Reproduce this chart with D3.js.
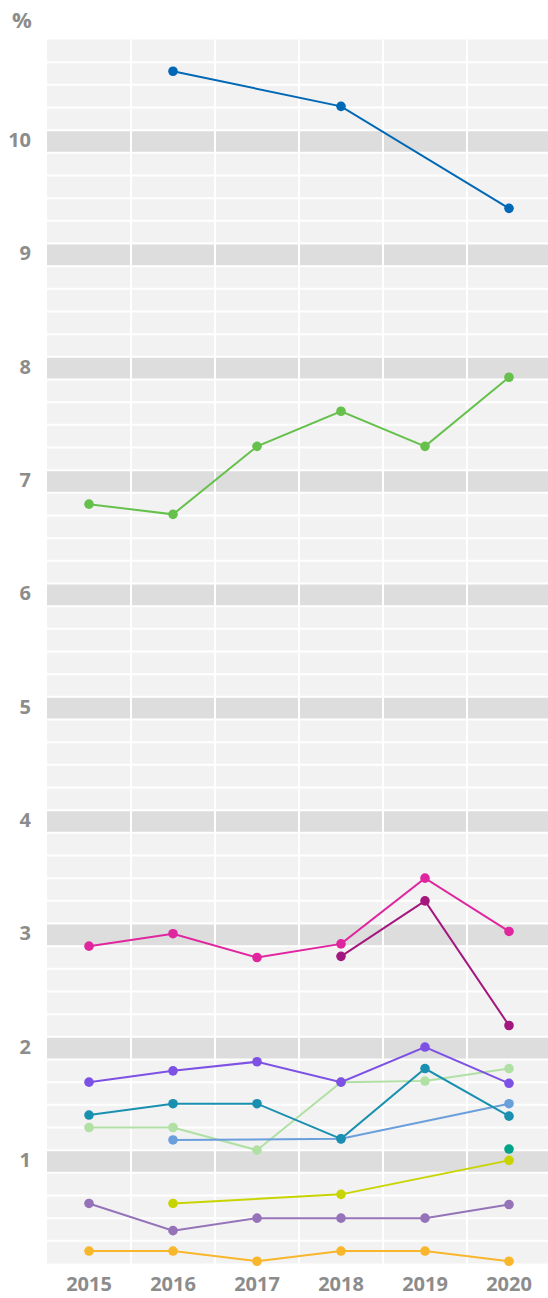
<!DOCTYPE html>
<html>
<head>
<meta charset="utf-8">
<script src="https://cdn.jsdelivr.net/npm/d3@7/dist/d3.min.js"></script>
<style>
  html, body { margin: 0; padding: 0; background: #ffffff; }
  svg { display: block; }
  text { font-family: "Open Sans", "DejaVu Sans", sans-serif; font-weight: 700; fill: #8c8c8c; }
</style>
</head>
<body>
<svg id="chart" width="548" height="1298"></svg>
<script>
// Years on the x axis
const years = ["2015", "2016", "2017", "2018", "2019", "2020"];

// Y axis tick labels (integer percentages)
const yTicks = [1, 2, 3, 4, 5, 6, 7, 8, 9, 10];

// Series values in %, null where no value exists for that year
const seriesBlue        = [null, 10.52, null, 10.21, null, 9.31];
const seriesGreen       = [6.70, 6.61, 7.21, 7.52, 7.21, 7.82];
const seriesMagenta     = [2.80, 2.91, 2.70, 2.82, 3.40, 2.93];
const seriesDarkMagenta = [null, null, null, 2.71, 3.20, 2.10];
const seriesLightGreen  = [1.20, 1.20, 1.00, 1.60, 1.61, 1.72];
const seriesLightBlue   = [null, 1.09, null, 1.10, null, 1.41];
const seriesTeal        = [1.31, 1.41, 1.41, 1.10, 1.72, 1.30];
const seriesPurple      = [1.60, 1.70, 1.78, 1.60, 1.91, 1.59];
const seriesSeaGreen    = [null, null, null, null, null, 1.01];
const seriesYellow      = [null, 0.53, null, 0.61, null, 0.91];
const seriesViolet      = [0.53, 0.29, 0.40, 0.40, 0.40, 0.52];
const seriesOrange      = [0.11, 0.11, 0.02, 0.11, 0.11, 0.02];

const series = [
  { values: seriesBlue,        color: "#0068b4" },
  { values: seriesGreen,       color: "#66c04c" },
  { values: seriesMagenta,     color: "#e0269e" },
  { values: seriesDarkMagenta, color: "#a3177f" },
  { values: seriesLightGreen,  color: "#b1e0a4" },
  { values: seriesLightBlue,   color: "#6b9fdb" },
  { values: seriesTeal,        color: "#1a90b0" },
  { values: seriesPurple,      color: "#7d51e4" },
  { values: seriesSeaGreen,    color: "#00a387" },
  { values: seriesYellow,      color: "#c8d400" },
  { values: seriesViolet,      color: "#9673b9" },
  { values: seriesOrange,      color: "#f8b62b" }
];

const svg = d3.select("#chart");
const plotLeft = 47, plotRight = 551, plotTop = 39.5, plotBottom = 1263.5;

const x = d3.scaleBand().domain(years).range([plotLeft, plotRight]).padding(0);
const y = d3.scaleLinear().domain([0, 10.8]).range([plotBottom, plotTop]);

const plot = svg.append("g");

// plot background
plot.append("rect")
  .attr("x", plotLeft).attr("y", plotTop)
  .attr("width", plotRight - plotLeft).attr("height", plotBottom - plotTop)
  .attr("fill", "#f2f2f2");

// darker band just under each integer value
plot.selectAll("rect.band")
  .data(yTicks)
  .join("rect")
  .attr("class", "band")
  .attr("x", plotLeft)
  .attr("width", plotRight - plotLeft)
  .attr("y", d => y(d))
  .attr("height", d => y(d - 0.2) - y(d))
  .attr("fill", "#dddddd");

// horizontal grid every 0.2
const gridValues = d3.range(1, 54).map(i => i * 0.2);
plot.selectAll("line.hgrid")
  .data(gridValues)
  .join("line")
  .attr("class", "hgrid")
  .attr("x1", plotLeft).attr("x2", plotRight)
  .attr("y1", d => y(d)).attr("y2", d => y(d))
  .attr("stroke", "#ffffff").attr("stroke-width", 2);

// vertical grid between years
plot.selectAll("line.vgrid")
  .data(years.slice(1))
  .join("line")
  .attr("class", "vgrid")
  .attr("x1", d => x(d)).attr("x2", d => x(d))
  .attr("y1", plotTop).attr("y2", plotBottom)
  .attr("stroke", "#ffffff").attr("stroke-width", 2);

// y labels, centred in their band
svg.selectAll("text.ylab")
  .data(yTicks)
  .join("text")
  .attr("class", "ylab")
  .attr("x", 31)
  .attr("y", d => y(d - 0.1) + 5.5)
  .attr("text-anchor", "end")
  .attr("font-size", 20)
  .text(d => d);

// unit label
svg.append("text")
  .attr("x", 12).attr("y", 28)
  .attr("font-size", 22)
  .text("%");

// x axis labels
svg.selectAll("text.xlab")
  .data(years)
  .join("text")
  .attr("class", "xlab")
  .attr("x", d => x(d) + x.bandwidth() / 2)
  .attr("y", 1291)
  .attr("text-anchor", "middle")
  .attr("font-size", 20)
  .text(d => d);

// lines and markers
const cx = d => x(d.year) + x.bandwidth() / 2;
const line = d3.line().x(cx).y(d => y(d.value));

series.forEach(s => {
  const pts = s.values
    .map((v, i) => ({ year: years[i], value: v }))
    .filter(d => d.value !== null);
  const g = svg.append("g");
  if (pts.length > 1) {
    g.append("path")
      .datum(pts)
      .attr("d", line)
      .attr("fill", "none")
      .attr("stroke", s.color)
      .attr("stroke-width", 2);
  }
  g.selectAll("circle")
    .data(pts)
    .join("circle")
    .attr("cx", cx)
    .attr("cy", d => y(d.value))
    .attr("r", 4.8)
    .attr("fill", s.color);
});
</script>
</body>
</html>
